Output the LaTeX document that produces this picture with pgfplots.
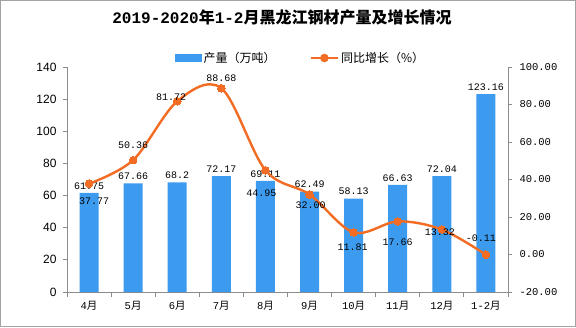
\documentclass[border=0pt]{standalone}
\usepackage{pgfplots}
\pgfplotsset{compat=1.18}
\usepackage{pgfplotstable}
\usepackage{fontspec}
\setmainfont{Liberation Mono}
\setsansfont{Liberation Sans}
\newfontfamily\cjk{Noto Sans CJK SC}
\definecolor{barblue}{RGB}{61,155,239}
\definecolor{lineorange}{RGB}{242,108,35}
\definecolor{axgray}{RGB}{140,140,140}

\pgfplotstableread{
x y lab
0 61.75 61.75
1 67.66 67.66
2 68.2 68.2
3 72.17 72.17
4 69.11 69.11
5 62.49 62.49
6 58.13 58.13
7 66.63 66.63
8 72.04 72.04
9 123.16 123.16
}\bardata

\pgfplotstableread{
x y dx dy
0 37.77 5 -18
1 50.36 0 15
2 81.72 -6 4
3 88.68 0 10
4 44.95 -4 -23
5 32.00 1 -11
6 11.81 -1 -15
7 17.66 0 -21
8 13.32 -2 -3
9 -0.11 -5 17
}\growdata

\begin{document}
\begin{tikzpicture}
\useasboundingbox (0,0) rectangle (576pt,327pt);
\fill[white] (0,0) rectangle (576pt,327pt);
\draw[axgray!80] (0.5pt,0.5pt) rectangle (575.5pt,326.5pt);
\begin{axis}[
  at={(67pt,35pt)}, anchor=south west,
  scale only axis, width=441pt, height=225pt,
  xmin=-0.5, xmax=9.5, ymin=0, ymax=140,
  ytick={0,20,...,140},
  axis y line*=left, axis x line*=bottom,
  axis line style={axgray, line width=0.8pt},
  tick align=outside,
  major tick length=4pt, minor tick length=5pt,
  tick style={axgray, line width=0.8pt},
  xtick={0,...,9},
  major x tick style={draw=none},
  minor xtick={-0.5,0.5,...,9.5},
  xticklabels={{4{\cjk 月}},{5{\cjk 月}},{6{\cjk 月}},{7{\cjk 月}},{8{\cjk 月}},{9{\cjk 月}},{10{\cjk 月}},{11{\cjk 月}},{12{\cjk 月}},{1-2{\cjk 月}}},
  xticklabel style={font=\fontsize{10.5}{12}\selectfont, yshift=-2pt},
  yticklabel style={font=\sffamily\fontsize{12}{14}\selectfont, xshift=-3pt},
  /pgf/number format/assume math mode=true,
  title={\bfseries 2019-2020{\cjk 年}1-2{\cjk 月黑龙江钢材产量及增长情况}},
  title style={at={(0.4875,1)}, anchor=center, yshift=44pt, font=\fontsize{16}{18}\selectfont},
  clip=false,
]
\addplot[ybar, bar width=19pt, fill=barblue, draw=none,
  nodes near coords, point meta=explicit symbolic,
  every node near coord/.append style={font=\fontsize{10}{12}\selectfont, black, anchor=south, yshift=0pt}]
  table[x=x, y=y, meta=lab] {\bardata};
\end{axis}
\begin{axis}[
  at={(67pt,35pt)}, anchor=south west,
  scale only axis, width=441pt, height=225pt,
  xmin=-0.5, xmax=9.5, ymin=-20, ymax=100,
  ytick={-20,0,...,100},
  axis y line*=right, axis x line=none,
  axis line style={axgray, line width=0.8pt},
  tick align=outside, major tick length=4pt,
  tick style={axgray, line width=0.8pt},
  yticklabel style={font=\fontsize{10.5}{12}\selectfont, xshift=4pt, /pgf/number format/.cd, fixed, fixed zerofill, precision=2},
  /pgf/number format/assume math mode=true,
  clip=false,
  legend columns=2,
  legend style={at={(0.53,1)}, anchor=center, yshift=9pt, draw=none, fill=none,
    font=\cjk\fontsize{12}{14}\selectfont,
    /tikz/every even column/.append style={column sep=32pt}},
]
\addlegendimage{legend image code/.code={\fill[barblue] (0pt,-3.5pt) rectangle (26pt,3.5pt);}}
\addlegendentry{产量（万吨）}
\addplot[lineorange, line width=2.4pt, smooth, tension=0.55,
  mark=*, mark size=3.8pt, mark options={fill=lineorange, draw=lineorange, line width=0pt},
  legend image code/.code={\draw[lineorange, line width=2.4pt] (0pt,0pt) -- (27pt,0pt); \fill[lineorange] (13.5pt,0pt) circle (3pt);}]
  table[x=x, y=y] {\growdata};
\addlegendentry{同比增长（\%）}
\addplot[draw=none, mark=none, forget plot,
  point meta=y,
  nodes near coords={\pgfmathprintnumber[fixed,fixed zerofill,precision=2,assume math mode=true]{\pgfplotspointmeta}},
  visualization depends on={\thisrow{dx} \as \dx},
  visualization depends on={\thisrow{dy} \as \dy},
  every node near coord/.append style={font=\fontsize{10}{12}\selectfont, text=black, anchor=center, xshift={\dx pt}, yshift={\dy pt}}]
  table[x=x, y=y] {\growdata};
\end{axis}
\end{tikzpicture}
\end{document}
